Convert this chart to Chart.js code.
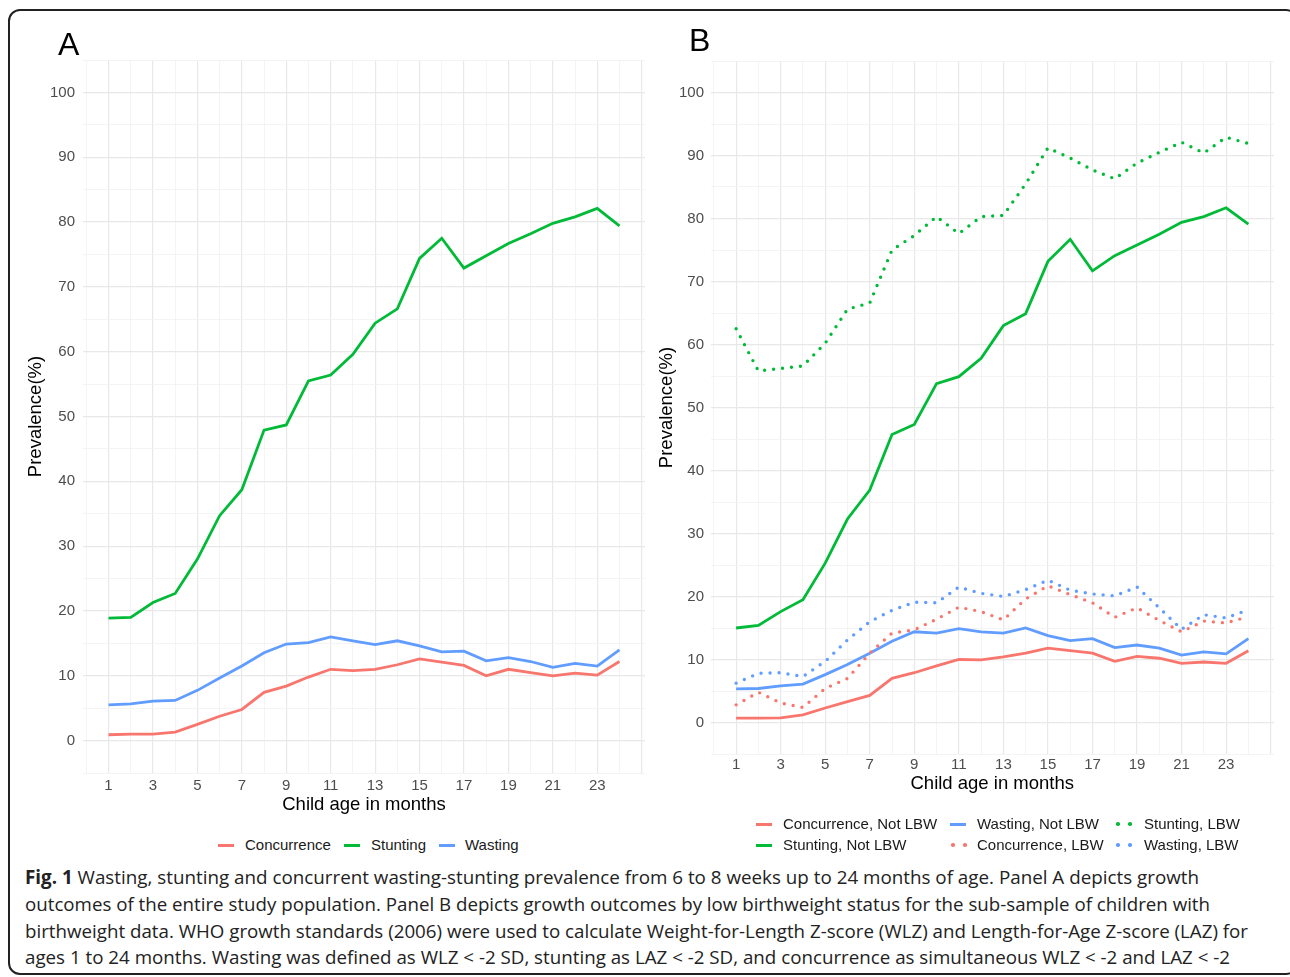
<!DOCTYPE html>
<html>
<head>
<meta charset="utf-8">
<script src="https://cdn.jsdelivr.net/npm/chart.js@4.4.1/dist/chart.umd.min.js"></script>
<style>
  body { margin: 0; width: 1290px; height: 977px; position: relative; overflow: hidden; background: #fff;
         font-family: "Liberation Sans", Arial, sans-serif; }
  .frame { position: absolute; left: 8px; top: 9px; width: 1290px; height: 966px;
           border: 2px solid #222; border-radius: 12px; box-sizing: border-box; }
  canvas { position: absolute; top: 0; }
  #chartA { left: 0; }
  #chartB { left: 640px; }
  .panel { position: absolute; font-size: 32px; line-height: 1; color: #000; }
  .leg { position: absolute; font-size: 15px; line-height: 18px; color: #1a1a1a; white-space: nowrap; }
  .sw { position: absolute; height: 3px; width: 16px; }
  .dot { position: absolute; width: 3.6px; height: 3.6px; border-radius: 50%; }
  .cap { position: absolute; left: 25px; font-family: "Open Sans", sans-serif; font-size: 19px;
         line-height: 27px; color: #222; white-space: nowrap; transform-origin: 0 50%; }
  .cap b { font-weight: 700; }
</style>
</head>
<body>
<div class="frame"></div>
<canvas id="chartA" width="655" height="830"></canvas>
<canvas id="chartB" width="650" height="810"></canvas>
<div class="panel" style="left:58px; top:28px;">A</div>
<div class="panel" style="left:689px; top:24px;">B</div>
<div id="legends"></div>
<div class="cap" data-w="1174" style="top:864px;"><b>Fig. 1</b> Wasting, stunting and concurrent wasting-stunting prevalence from 6 to 8 weeks up to 24 months of age. Panel A depicts growth</div>
<div class="cap" data-w="1185" style="top:891px;">outcomes of the entire study population. Panel B depicts growth outcomes by low birthweight status for the sub-sample of children with</div>
<div class="cap" data-w="1223" style="top:918px;">birthweight data. WHO growth standards (2006) were used to calculate Weight-for-Length Z-score (WLZ) and Length-for-Age Z-score (LAZ) for</div>
<div class="cap" data-w="1205" style="top:944px;">ages 1 to 24 months. Wasting was defined as WLZ &lt; -2 SD, stunting as LAZ &lt; -2 SD, and concurrence as simultaneous WLZ &lt; -2 and LAZ &lt; -2</div>

<script>
const months = [1, 2, 3, 4, 5, 6, 7, 8, 9, 10, 11, 12, 13, 14, 15, 16, 17, 18, 19, 20, 21, 22, 23, 24];
const xTickLabels = [1, 3, 5, 7, 9, 11, 13, 15, 17, 19, 21, 23];
const yTickLabels = [0, 10, 20, 30, 40, 50, 60, 70, 80, 90, 100];

// Panel A: whole study population
const concurrenceA = [0.9, 1.0, 1.0, 1.3, 2.5, 3.75, 4.8, 7.45, 8.4, 9.8, 11.0, 10.8, 11.0, 11.7, 12.6, 12.1, 11.6, 10.0, 11.0, 10.5, 10.0, 10.4, 10.1, 12.2];
const stuntingA = [18.9, 19.0, 21.3, 22.7, 28.0, 34.7, 38.7, 47.9, 48.7, 55.5, 56.4, 59.6, 64.4, 66.6, 74.4, 77.5, 72.9, 74.8, 76.7, 78.2, 79.8, 80.8, 82.1, 79.4];
const wastingA = [5.5, 5.65, 6.1, 6.2, 7.75, 9.65, 11.5, 13.55, 14.9, 15.1, 16.0, 15.4, 14.8, 15.4, 14.6, 13.7, 13.8, 12.3, 12.8, 12.2, 11.3, 11.9, 11.5, 14.0];

// Panel B: by low birthweight status
const concurrenceNotLbw = [0.7, 0.7, 0.75, 1.2, 2.3, 3.3, 4.3, 7.0, 7.9, 9.0, 10.0, 9.95, 10.4, 11.0, 11.8, 11.4, 11.0, 9.7, 10.5, 10.2, 9.4, 9.6, 9.4, 11.4];
const stuntingNotLbw = [15.0, 15.4, 17.6, 19.5, 25.3, 32.3, 36.9, 45.7, 47.3, 53.8, 54.9, 57.8, 63.0, 64.9, 73.2, 76.7, 71.7, 74.1, 75.8, 77.5, 79.4, 80.3, 81.7, 79.1];
const wastingNotLbw = [5.35, 5.4, 5.8, 6.1, 7.6, 9.2, 11.0, 12.9, 14.4, 14.2, 14.9, 14.4, 14.2, 15.0, 13.8, 13.0, 13.3, 11.9, 12.3, 11.8, 10.7, 11.2, 10.9, 13.3];
const concurrenceLbw = [2.8, 4.8, 3.1, 2.4, 5.4, 7.0, 11.0, 14.2, 14.7, 16.4, 18.3, 17.6, 16.3, 19.6, 21.7, 20.3, 19.0, 16.7, 18.2, 16.2, 14.4, 16.1, 15.8, 16.8];
const stuntingLbw = [62.5, 55.8, 56.2, 56.6, 60.2, 65.6, 66.6, 75.0, 77.3, 80.3, 77.6, 80.3, 80.5, 85.5, 91.2, 89.6, 87.7, 86.3, 88.8, 90.5, 92.1, 90.4, 92.9, 91.9];
const wastingLbw = [6.25, 7.8, 7.9, 7.3, 9.7, 13.1, 16.0, 17.8, 19.1, 19.0, 21.5, 20.5, 20.0, 21.1, 22.6, 21.0, 20.4, 20.1, 21.5, 18.2, 14.8, 17.1, 16.6, 17.9];

const RED = '#F8766D', GREEN = '#00BA38', BLUE = '#619CFF';

Chart.defaults.font.family = '"Liberation Sans", Arial, sans-serif';

const pts = vals => vals.map((v, i) => ({ x: months[i], y: v }));

function line(label, vals, color, dotted) {
  return {
    label,
    data: pts(vals),
    borderColor: color,
    backgroundColor: color,
    borderWidth: dotted ? 3.4 : 2.8,
    borderDash: dotted ? [0, 9] : [],
    borderCapStyle: dotted ? 'round' : 'butt',
    pointRadius: 0,
    tension: 0,
    fill: false,
  };
}

function options(dims) {
  return {
    responsive: false,
    animation: false,
    layout: { padding: { left: 0, top: dims.top, right: dims.right, bottom: 0 } },
    plugins: { legend: { display: false }, tooltip: { enabled: false } },
    scales: {
      x: {
        type: 'linear',
        min: -0.15,
        max: 25.15,
        afterBuildTicks: s => { s.ticks = []; for (let m = 0; m <= 25; m++) s.ticks.push({ value: m }); },
        afterFit: s => { s.height = dims.xh; },
        ticks: {
          autoSkip: false, maxRotation: 0, padding: dims.xtp,
          color: '#4d4d4d', font: { size: 15 },
          callback: v => xTickLabels.includes(v) ? String(v) : '',
        },
        grid: {
          drawTicks: false,
          color: c => c.tick && c.tick.value % 2 === 1 ? '#e8e8e8' : '#f1f1f1',
          lineWidth: c => c.tick && c.tick.value % 2 === 1 ? 1.2 : 0.8,
        },
        border: { display: false },
        title: { display: true, text: 'Child age in months', color: '#000',
                 font: { size: 18.5 }, padding: { top: 0, bottom: dims.xtb } },
      },
      y: {
        min: -5,
        max: 105,
        afterBuildTicks: s => { s.ticks = []; for (let v = -5; v <= 105; v += 5) s.ticks.push({ value: v }); },
        afterFit: s => { s.width = dims.yw; },
        ticks: {
          autoSkip: false, padding: dims.ytp,
          color: '#4d4d4d', font: { size: 15 },
          callback: v => yTickLabels.includes(v) ? String(v) : '',
        },
        grid: {
          drawTicks: false,
          color: c => c.tick && c.tick.value % 10 === 0 ? '#e8e8e8' : '#f1f1f1',
          lineWidth: c => c.tick && c.tick.value % 10 === 0 ? 1.2 : 0.8,
        },
        border: { display: false },
        title: { display: true, text: 'Prevalence(%)', color: '#000',
                 font: { size: 18.5 }, padding: { top: dims.ytt, bottom: 0 } },
      },
    },
  };
}

new Chart(document.getElementById('chartA'), {
  type: 'line',
  data: {
    datasets: [
      line('Concurrence', concurrenceA, RED),
      line('Stunting', stuntingA, GREEN),
      line('Wasting', wastingA, BLUE),
    ],
  },
  options: options({ top: 60, right: 10, xh: 57, xtp: 4, xtb: 14, yw: 83, ytp: 8, ytt: 25 }),
});

new Chart(document.getElementById('chartB'), {
  type: 'line',
  data: {
    datasets: [
      line('Concurrence, LBW', concurrenceLbw, RED, true),
      line('Wasting, LBW', wastingLbw, BLUE, true),
      line('Stunting, LBW', stuntingLbw, GREEN, true),
      line('Concurrence, Not LBW', concurrenceNotLbw, RED),
      line('Stunting, Not LBW', stuntingNotLbw, GREEN),
      line('Wasting, Not LBW', wastingNotLbw, BLUE),
    ],
  },
  options: options({ top: 61, right: 16, xh: 56, xtp: 2, xtb: 15, yw: 70.5, ytp: 6.5, ytt: 16 }),
});

// legends (ggplot-style, drawn as html)
const legendItems = [
  { text: 'Concurrence', color: RED, x: 218, tx: 245, y: 845 },
  { text: 'Stunting', color: GREEN, x: 344, tx: 371, y: 845 },
  { text: 'Wasting', color: BLUE, x: 439, tx: 465, y: 845 },
  { text: 'Concurrence, Not LBW', color: RED, x: 756, tx: 783, y: 824 },
  { text: 'Stunting, Not LBW', color: GREEN, x: 756, tx: 783, y: 845 },
  { text: 'Wasting, Not LBW', color: BLUE, x: 950, tx: 977, y: 824 },
  { text: 'Concurrence, LBW', color: RED, x: 950, tx: 977, y: 845, dotted: true },
  { text: 'Stunting, LBW', color: GREEN, x: 1115, tx: 1144, y: 824, dotted: true },
  { text: 'Wasting, LBW', color: BLUE, x: 1115, tx: 1144, y: 845, dotted: true },
];
const legBox = document.getElementById('legends');
legendItems.forEach(it => {
  if (it.dotted) {
    [it.x + 1, it.x + 13].forEach(dx => {
      const d = document.createElement('div');
      d.className = 'dot';
      d.style.cssText = `left:${dx}px; top:${it.y - 1.8}px; background:${it.color};`;
      legBox.appendChild(d);
    });
  } else {
    const s = document.createElement('div');
    s.className = 'sw';
    s.style.cssText = `left:${it.x}px; top:${it.y - 1.5}px; background:${it.color};`;
    legBox.appendChild(s);
  }
  const t = document.createElement('div');
  t.className = 'leg';
  t.textContent = it.text;
  t.style.cssText = `left:${it.tx}px; top:${it.y - 9}px;`;
  legBox.appendChild(t);
});

// squeeze caption lines to the widths in the figure
document.querySelectorAll('.cap').forEach(el => {
  const w = el.getBoundingClientRect().width;
  el.style.transform = `scaleX(${+el.dataset.w / w})`;
});
</script>
</body>
</html>
